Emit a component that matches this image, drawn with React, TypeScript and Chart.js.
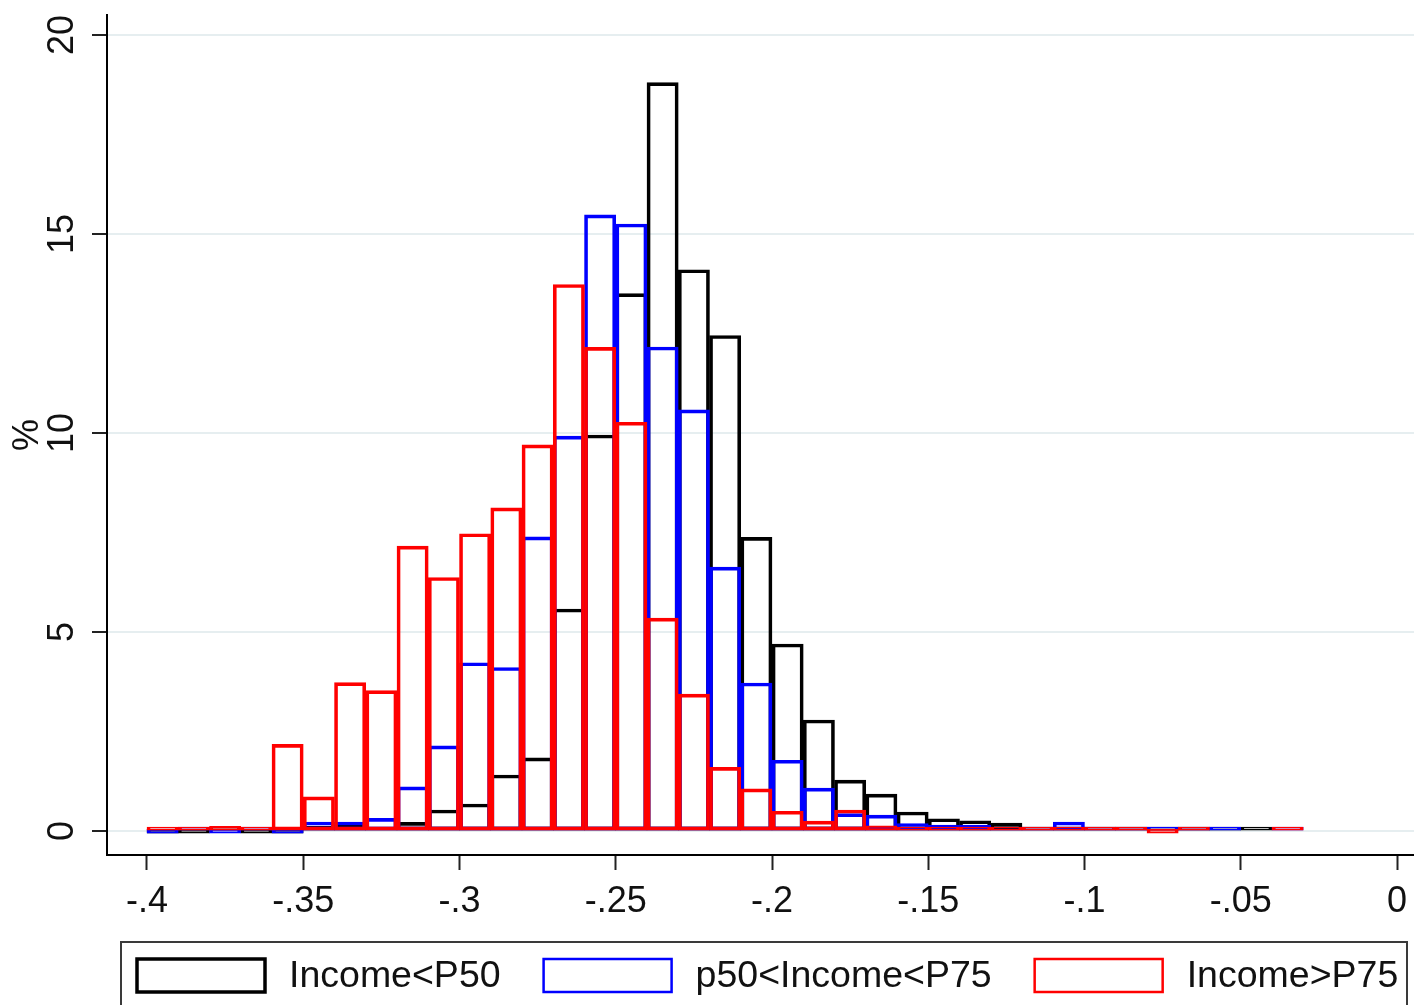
import { useEffect, useRef } from 'react';
import { Chart, registerables } from 'chart.js';

Chart.register(...registerables);

// Histogram bins: left edges, width 0.01
const binStarts = [
  -0.40, -0.39, -0.38, -0.37, -0.36, -0.35, -0.34, -0.33, -0.32, -0.31,
  -0.30, -0.29, -0.28, -0.27, -0.26, -0.25, -0.24, -0.23, -0.22, -0.21,
  -0.20, -0.19, -0.18, -0.17, -0.16, -0.15, -0.14, -0.13, -0.12, -0.11,
  -0.10, -0.09, -0.08, -0.07, -0.06, -0.05, -0.04,
];
const binWidth = 0.01;

// Percent of observations per bin
const incomeBelowP50 = [
  0, 0, 0.05, 0, 0, 0.12, 0.15, 0.1, 0.22, 0.53,
  0.68, 1.41, 1.84, 5.58, 9.95, 13.5, 18.8, 14.1, 12.45, 7.38,
  4.7, 2.79, 1.28, 0.93, 0.48, 0.31, 0.26, 0.2, 0.1, 0.05,
  0.02, 0.02, 0.02, 0.02, 0.02, 0.05, null,
];
const incomeP50toP75 = [
  0, 0.02, 0, 0.02, 0, 0.23, 0.23, 0.32, 1.11, 2.14,
  4.23, 4.11, 7.39, 9.92, 15.48, 15.25, 12.16, 10.58, 6.63, 3.72,
  1.78, 1.08, 0.44, 0.4, 0.19, 0.15, 0.15, 0.1, 0.05, 0.23,
  0.02, 0.02, 0.02, 0.02, 0.05, null, 0.02,
];
const incomeAboveP75 = [
  0.05, 0.05, 0.12, 0.05, 2.18, 0.86, 3.73, 3.53, 7.16, 6.37,
  7.47, 8.12, 9.7, 13.73, 12.15, 10.27, 5.35, 3.44, 1.6, 1.06,
  0.5, 0.25, 0.53, 0.13, 0.05, 0.05, 0.05, 0.02, 0.02, 0.02,
  0.02, 0.02, 0, 0.02, null, null, 0.05,
];

const seriesLabels = ['Income<P50', 'p50<Income<P75', 'Income>P75'];
const seriesColors = ['#000000', '#0000ff', '#ff0000'];
const seriesValues = [incomeBelowP50, incomeP50toP75, incomeAboveP75];

const FONT = '"Liberation Sans", Arial, Helvetica, sans-serif';

function fmtTick(v: number): string {
  const r = Math.round(v * 100) / 100;
  if (Math.abs(r) < 1e-9) return '0';
  return String(r).replace(/^(-?)0\./, '$1.');
}

const legendBox = {
  id: 'legendBox',
  afterDraw(chart: any) {
    const { ctx } = chart;
    ctx.save();
    ctx.strokeStyle = '#3a3a3a';
    ctx.lineWidth = 2;
    ctx.strokeRect(121, 942, 1286, 90);
    ctx.font = `37.5px ${FONT}`;
    ctx.textBaseline = 'middle';
    ctx.textAlign = 'left';
    let x = 137;
    chart.data.datasets.forEach((ds: any, i: number) => {
      ctx.strokeStyle = ds.borderColor;
      ctx.lineWidth = i === 0 ? 3.5 : 2.5;
      ctx.strokeRect(x, 959, 128, 33);
      ctx.fillStyle = '#111';
      ctx.fillText(ds.label, x + 152, 977);
      x += 152 + ctx.measureText(ds.label).width + 43;
    });
    ctx.restore();
  },
};

export default function App() {
  const canvasRef = useRef<HTMLCanvasElement | null>(null);

  useEffect(() => {
    const canvas = canvasRef.current;
    if (!canvas) return;
    // later series are painted over earlier ones
    const datasets = seriesValues.map((vals, k) => ({
      label: seriesLabels[k],
      data: vals.map((v, i) => ({ x: binStarts[i] + binWidth / 2, y: v })),
      backgroundColor: 'rgba(0,0,0,0)',
      borderColor: seriesColors[k],
      borderWidth: 3,
      borderSkipped: false as const,
      barPercentage: 1,
      categoryPercentage: 1,
      minBarLength: 4,
      grouped: false,
      order: seriesValues.length - 1 - k,
    }));

    const chart = new Chart(canvas, {
      type: 'bar',
      data: { datasets },
      plugins: [legendBox],
      options: {
        responsive: false,
        animation: false,
        layout: { padding: { left: 0, right: 0, top: 15, bottom: 70 } },
        plugins: {
          legend: { display: false },
          tooltip: { enabled: false },
        },
        scales: {
          x: {
            type: 'linear',
            offset: false,
            min: -0.4128,
            max: 0.00544,
            grid: {
              offset: false,
              drawOnChartArea: false,
              drawTicks: true,
              tickLength: 15,
              tickColor: '#222',
              tickWidth: 2,
            },
            border: { display: true, color: '#000', width: 2 },
            ticks: {
              stepSize: 0.05,
              includeBounds: false,
              autoSkip: false,
              maxRotation: 0,
              padding: 10,
              color: '#111',
              font: { family: FONT, size: 36 },
              callback: (v: any) => fmtTick(Number(v)),
            },
            afterFit: (scale: any) => {
              scale.height = 80;
              scale.paddingLeft = 0;
              scale.paddingRight = 0;
            },
          },
          y: {
            type: 'linear',
            min: -0.6,
            max: 20.5,
            grid: {
              color: '#e6eef0',
              lineWidth: 2,
              drawTicks: true,
              tickLength: 15,
              tickColor: '#222',
              tickWidth: 2,
            },
            border: { display: true, color: '#000', width: 2 },
            ticks: {
              stepSize: 5,
              includeBounds: false,
              autoSkip: false,
              minRotation: 90,
              maxRotation: 90,
              crossAlign: 'center',
              padding: 9,
              color: '#111',
              font: { family: FONT, size: 36 },
              callback: (v: any) => fmtTick(Number(v)),
            },
            title: {
              display: true,
              text: '%',
              color: '#111',
              font: { family: FONT, size: 36 },
              padding: { top: 6, bottom: 0 },
            },
            afterFit: (scale: any) => {
              scale.width = 107;
              scale.paddingTop = 0;
              scale.paddingBottom = 0;
            },
          },
        },
      },
    });
    return () => chart.destroy();
  }, []);

  return (
    <div style={{ position: 'absolute', left: 0, top: 0, width: 1414, height: 1005, background: '#fff' }}>
      <canvas ref={canvasRef} width={1414} height={1005} />
    </div>
  );
}
